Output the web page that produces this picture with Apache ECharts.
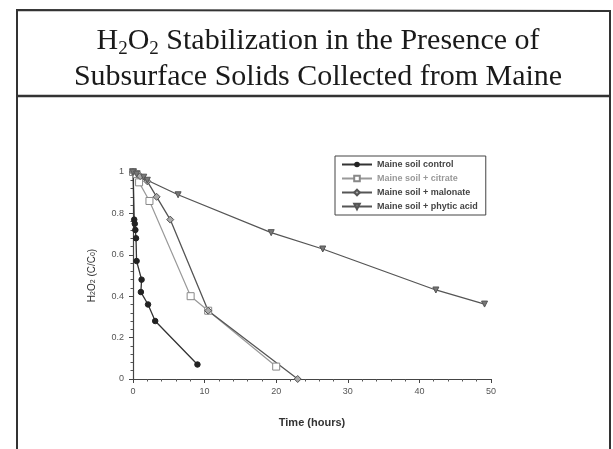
<!DOCTYPE html>
<html><head><meta charset="utf-8">
<script src="https://cdn.jsdelivr.net/npm/echarts@6/dist/echarts.min.js"></script>
<style>html,body{margin:0;padding:0;background:#fff}#c{width:613px;height:449px}</style>
</head><body><div id="c"></div>
<script>
// Data (x = time in hours, y = C/C0)
const seriesNames = ["Maine soil control", "Maine soil + citrate", "Maine soil + malonate", "Maine soil + phytic acid"];
const controlData = [[0,1.0],[0.17,0.77],[0.25,0.75],[0.33,0.72],[0.42,0.68],[0.5,0.57],[1.2,0.48],[1.1,0.42],[2.1,0.36],[3.1,0.28],[9.0,0.07]];
const citrateData = [[0,1.0],[0.5,0.99],[0.85,0.95],[2.3,0.86],[8.05,0.40],[10.5,0.33],[20,0.06]];
const malonateData = [[0,1.0],[1,0.98],[2,0.955],[3.3,0.88],[5.2,0.77],[10.5,0.33],[23,0.0]];
const phyticData = [[0,1.0],[0.5,0.99],[1.5,0.975],[2,0.96],[6.3,0.89],[19.3,0.707],[26.5,0.628],[42.3,0.43],[49.1,0.362]];
const xTicks = [0, 10, 20, 30, 40, 50];
const yTicks = [0, 0.2, 0.4, 0.6, 0.8, 1];

const chart = echarts.init(document.getElementById('c'), null, {renderer: 'canvas'});
const sans = 'Liberation Sans';
const option = {
  backgroundColor: '#fff',
  animation: false,
  title: {
    text: 'H{sub|2}O{sub|2} Stabilization in the Presence of\nSubsurface Solids Collected from Maine',
    left: 318, top: 23, textAlign: 'center', padding: 0,
    textStyle: {
      fontFamily: 'Liberation Serif', fontSize: 30, fontWeight: 'normal', color: '#1a1a1a', lineHeight: 36,
      rich: { sub: { fontFamily: 'Liberation Serif', fontSize: 19, lineHeight: 17, verticalAlign: 'bottom', color: '#1a1a1a' } }
    }
  },
  graphic: [
    { type: 'polyline', shape: { points: [[17, 449], [17, 10], [610, 11], [610, 449]] }, style: { stroke: '#333', lineWidth: 2, fill: null } },
    { type: 'line', shape: { x1: 17, y1: 96, x2: 610, y2: 96 }, style: { stroke: '#333', lineWidth: 2.5 } }
  ],
  legend: {
    orient: 'vertical', left: 335, top: 156,
    data: seriesNames.map((n, i) => i === 1 ? { name: n, textStyle: { color: '#999' } } : { name: n }),
    itemWidth: 30, itemHeight: 7, itemGap: 5,
    padding: [4, 8, 4, 6],
    borderColor: '#444', borderWidth: 1,
    textStyle: { fontFamily: sans, fontSize: 9, fontWeight: 'bold', color: '#444' }
  },
  grid: { left: 133, right: 122, top: 172, bottom: 70, containLabel: false },
  xAxis: {
    type: 'value', min: 0, max: 50, interval: 10,
    name: 'Time (hours)', nameLocation: 'middle', nameGap: 38,
    nameTextStyle: { fontFamily: sans, fontSize: 11, fontWeight: 'bold', color: '#333' },
    axisLine: { lineStyle: { color: '#444', width: 1.2 } },
    axisTick: { show: true, length: 4, lineStyle: { color: '#444' } },
    minorTick: { show: true, splitNumber: 5, length: 2.5, lineStyle: { color: '#555' } },
    splitLine: { show: false },
    axisLabel: { fontFamily: sans, fontSize: 9, color: '#555', margin: 8,
      formatter: v => xTicks.includes(v) ? String(v) : '' }
  },
  yAxis: {
    type: 'value', min: 0, max: 1, interval: 0.2,
    name: 'H{s|2}O{s|2} (C/C{s|0})', nameLocation: 'middle', nameGap: 36, nameRotate: 90,
    nameTextStyle: { fontFamily: sans, fontSize: 10, color: '#333',
      rich: { s: { fontFamily: sans, fontSize: 7, verticalAlign: 'bottom', lineHeight: 9, color: '#333' } } },
    axisLine: { show: true, lineStyle: { color: '#444', width: 1.2 } },
    axisTick: { show: true, length: 4, lineStyle: { color: '#444' } },
    minorTick: { show: true, splitNumber: 5, length: 2.5, lineStyle: { color: '#555' } },
    splitLine: { show: false },
    axisLabel: { fontFamily: sans, fontSize: 9, color: '#555', margin: 9,
      formatter: v => { const t = yTicks.find(y => Math.abs(y - v) < 1e-9); return t === undefined ? '' : String(t); } }
  },
  series: [
    { name: seriesNames[0], type: 'line', data: controlData, symbol: 'circle', symbolSize: 5.5,
      lineStyle: { color: '#333', width: 1.3 }, itemStyle: { color: '#222', borderColor: '#222' } },
    { name: seriesNames[1], type: 'line', data: citrateData, symbol: 'rect', symbolSize: 7,
      lineStyle: { color: '#999', width: 1.2 }, itemStyle: { color: '#fff', borderColor: '#888', borderWidth: 1 } },
    { name: seriesNames[2], type: 'line', data: malonateData, symbol: 'diamond', symbolSize: 7,
      lineStyle: { color: '#555', width: 1.3 }, itemStyle: { color: '#aaa', borderColor: '#555', borderWidth: 1 } },
    { name: seriesNames[3], type: 'line', data: phyticData, symbol: 'triangle', symbolRotate: 180, symbolSize: 6,
      lineStyle: { color: '#555', width: 1.3 }, itemStyle: { color: '#777', borderColor: '#555', borderWidth: 1 } }
  ]
};
chart.setOption(option);
</script></body></html>
